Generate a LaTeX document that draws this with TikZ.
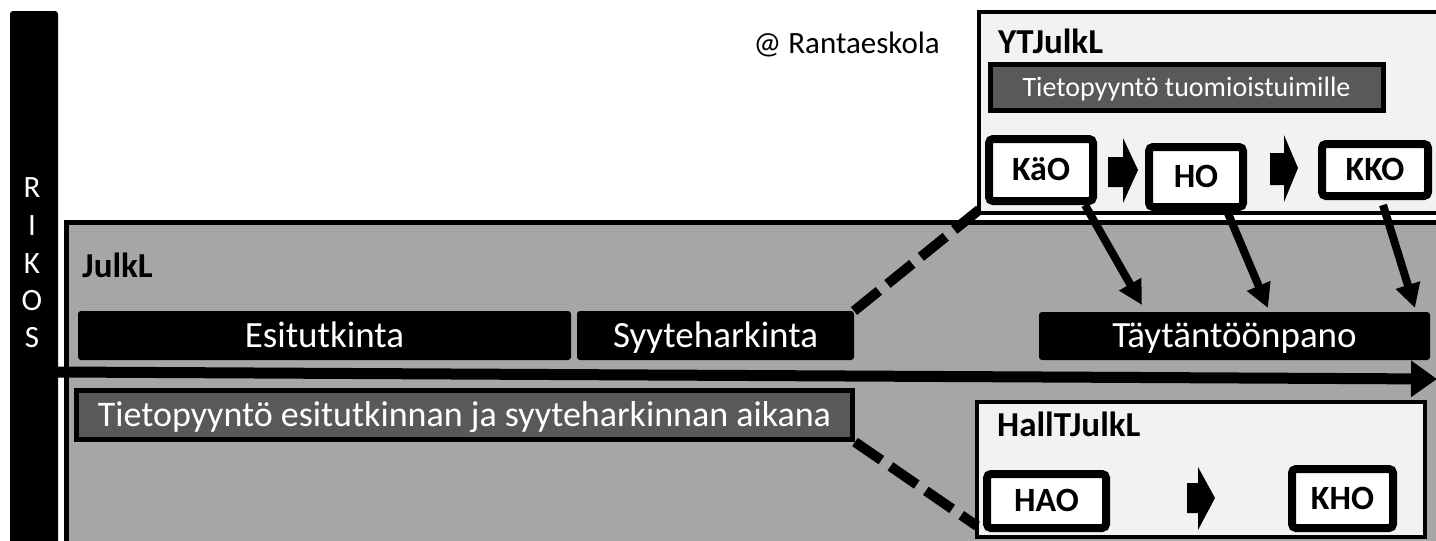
\documentclass[tikz,border=0pt]{standalone}
\usepackage{fontspec}
\setmainfont{Carlito}
\usetikzlibrary{arrows.meta}
\definecolor{bgmid}{HTML}{A6A6A6}
\definecolor{bglight}{HTML}{F2F2F2}
\definecolor{reqgrey}{HTML}{595959}
\newcommand{\pxfont}[1]{\fontsize{#1}{#1}\selectfont}
\begin{document}
\begin{tikzpicture}[x=1pt,y=-1pt,
  phase/.style={fill=black,text=white,rounded corners=3pt,inner sep=0pt,outer sep=0pt,font=\pxfont{37},text height=23.8pt,text depth=0pt},
  req/.style={fill=reqgrey,draw=black,line width=5pt,text=white,inner sep=0pt},
  court/.style={fill=white,draw=black,line width=8pt,rounded corners=4pt,inner sep=0pt,font=\bfseries\pxfont{34},text height=21.9pt,text depth=0pt},
  cont/.style={draw=black,line width=4.5pt,inner sep=0pt,outer sep=0pt,anchor=north west},
  title/.style={font=\bfseries\pxfont{35},anchor=base west,inner sep=0pt},
  flow/.style={line width=8pt,-{Triangle[length=24pt,width=24pt]}},
  link/.style={line width=10pt,dash pattern=on 32pt off 11pt},
  chevron/.style={fill=black}
]
\useasboundingbox (0,0) rectangle (1436,541);
\clip (0,0) rectangle (1436,541);

% RIKOS bar
\node[fill=black,rounded corners=3pt,anchor=north west,minimum width=48pt,minimum height=560pt,inner sep=0pt,outer sep=0pt] (rikos) at (10,11) {};
\foreach \l/\yy/\i in {R/187/1,I/225/2,K/263/3,O/300/4,S/337/5}
  \node[text=white,font=\pxfont{31},inner sep=0pt,text height=20pt,text depth=0pt] (rk\i) at (32,\yy) {\l};

% containers
\node[cont,line width=5pt,fill=bgmid,minimum width=1400pt,minimum height=340pt] (julkl) at (66,222) {};
\node[cont,fill=bglight,minimum width=500pt,minimum height=201pt] (ytj) at (979,12) {};
\node[cont,fill=bglight,minimum width=448pt,minimum height=135pt] (hall) at (977,402) {};

% titles
\node[title] (tjulkl) at (82,277) {JulkL};
\node[title] (tytj) at (998,53) {YTJulkL};
\node[title] (thall) at (997,436) {HallTJulkL};
\node[font=\pxfont{31},anchor=base east,inner sep=0pt] (credit) at (940,53) {@ Rantaeskola};

% phases
\node[phase,minimum width=493pt,minimum height=49pt] (esi) at (324.5,335.5) {Esitutkinta};
\node[phase,minimum width=277pt,minimum height=49pt] (syy) at (715.5,335.5) {Syyteharkinta};
\node[phase,minimum width=391pt,minimum height=48pt] (tay) at (1234.5,336) {Täytäntöönpano};

% information requests
\node[req,minimum width=776pt,minimum height=49pt,font=\pxfont{36},text height=23.2pt,text depth=0pt] (tpe) at (464.5,415) {Tietopyyntö esitutkinnan ja syyteharkinnan aikana};
\node[req,minimum width=393pt,minimum height=46pt,font=\pxfont{28},text height=18pt,text depth=0pt] (tpt) at (1186.5,87) {Tietopyyntö tuomioistuimille};

% courts
\node[court,minimum width=104pt,minimum height=62pt] (kao) at (1041,170) {KäO};
\node[court,minimum width=94pt,minimum height=60pt] (ho) at (1196,177) {HO};
\node[court,minimum width=106pt,minimum height=52pt] (kko) at (1375,170) {KKO};
\node[court,minimum width=119pt,minimum height=54pt] (hao) at (1046.5,501) {HAO};
\node[court,minimum width=101pt,minimum height=59pt] (kho) at (1342.5,498.5) {KHO};

% chevrons
\fill[chevron] (1108,157) -- (1123,157) -- (1123,138) -- (1138,170) -- (1123,203) -- (1123,187) -- (1108,187) -- cycle;
\fill[chevron] (1270,153) -- (1284,153) -- (1284,135) -- (1298,168) -- (1284,202) -- (1284,185) -- (1270,185) -- cycle;
\fill[chevron] (1187,483) -- (1198,483) -- (1198,467) -- (1215,498) -- (1198,530) -- (1198,513) -- (1187,513) -- cycle;

% time line
\coordinate (tend) at (1437,379);
\draw[line width=11pt,-{Triangle[length=26pt,width=35pt]}] (rikos.east |- 0,372) -- (tend);

% flows
\draw[flow] ([xshift=44pt]kao.south) -- ([xshift=-92.5pt,yshift=7pt]tay.north);
\draw[flow] ([xshift=31pt]ho.south) -- ([xshift=33.5pt,yshift=4pt]tay.north);
\draw[flow] ([xshift=8pt,yshift=-5pt]kko.south) -- ([xshift=180.5pt,yshift=4pt]tay.north);

% dashed links
\draw[link] (syy.north east) -- (kao.south west);
\draw[link] (tpe.south east) -- ([yshift=11pt]hall.south west);
\end{tikzpicture}
\end{document}
